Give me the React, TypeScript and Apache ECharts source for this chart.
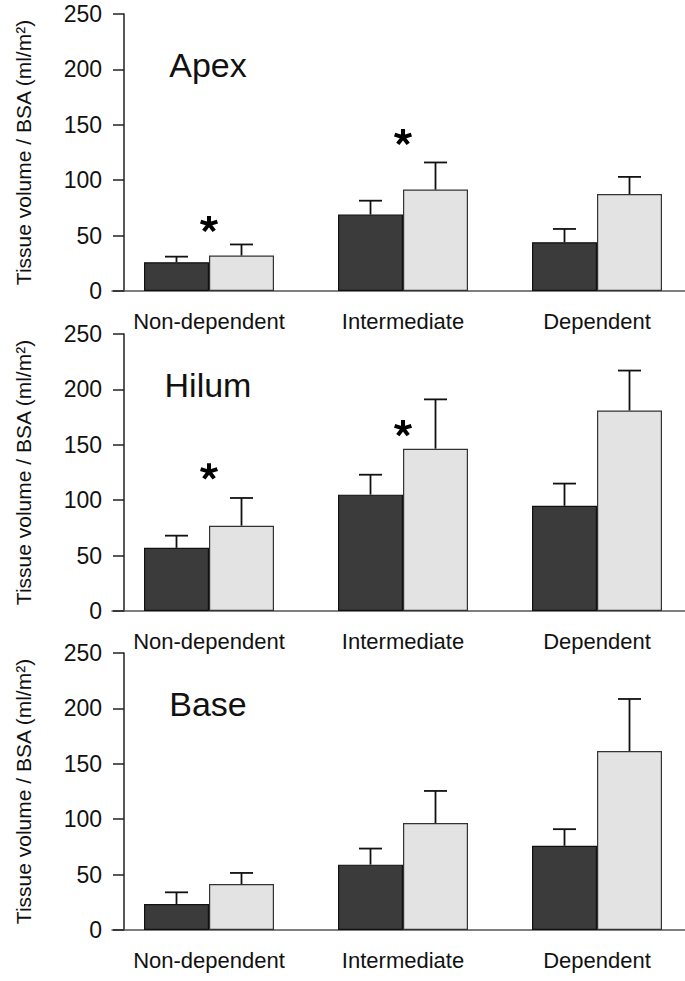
import React, { useEffect, useRef } from "react";
import * as echarts from "echarts";

const categories = ["Non-dependent", "Intermediate", "Dependent"];
const panelTitles = ["Apex", "Hilum", "Base"];
const yTicks = [0, 50, 100, 150, 200, 250];
const yAxisTitle = "Tissue volume / BSA (ml/m²)";

// mean values (dark bars / light bars) per panel
const apexDark = [26, 69, 44];
const apexDarkErr = [5, 12.5, 12];
const apexLight = [32, 91.5, 87.5];
const apexLightErr = [10, 24.5, 15.5];
const apexStars = [60.5, 139, null];

const hilumDark = [57, 105, 95];
const hilumDarkErr = [11, 18, 20];
const hilumLight = [77, 146.5, 181];
const hilumLightErr = [25, 44.5, 36];
const hilumStars = [126, 165, null];

const baseDark = [23.5, 59, 76];
const baseDarkErr = [10.5, 14.5, 15];
const baseLight = [41.5, 96.5, 161.5];
const baseLightErr = [10, 29, 47];
const baseStars = [null, null, null];

const panels = [
  { dark: apexDark, darkErr: apexDarkErr, light: apexLight, lightErr: apexLightErr, stars: apexStars },
  { dark: hilumDark, darkErr: hilumDarkErr, light: hilumLight, lightErr: hilumLightErr, stars: hilumStars },
  { dark: baseDark, darkErr: baseDarkErr, light: baseLight, lightErr: baseLightErr, stars: baseStars },
];

const FONT = "Liberation Sans, Arial, Helvetica, sans-serif";
const GRID_TOPS = [14, 334, 653];
const GRID_H = 277;
const GRID_LEFT = 112;
const GRID_W = 582;
const BAR_W = 65;

function asteriskPath(): string {
  const w = 0.46;
  const parts: string[] = [];
  const angles = [-90, -18, 54, 126, 198];
  for (const a of angles) {
    const t = (a * Math.PI) / 180;
    const dx = Math.cos(t), dy = Math.sin(t);
    const px = -dy * (w / 2), py = dx * (w / 2);
    const s = -0.15;
    const pts = [
      [s * dx + px, s * dy + py],
      [dx + px, dy + py],
      [dx - px, dy - py],
      [s * dx - px, s * dy - py],
    ];
    parts.push(
      "M" + pts.map((p) => p[0].toFixed(3) + " " + p[1].toFixed(3)).join(" L") + " Z"
    );
  }
  return "path://" + parts.join(" ");
}

export default function App() {
  const ref = useRef<HTMLDivElement>(null);

  useEffect(() => {
    if (!ref.current) return;
    const chart = echarts.init(ref.current, null, { renderer: "svg" });

    const grids: any[] = [];
    const xAxes: any[] = [];
    const yAxes: any[] = [];
    const series: any[] = [];
    const graphics: any[] = [];
    const star = asteriskPath();

    panels.forEach((p, i) => {
      grids.push({
        left: GRID_LEFT,
        top: GRID_TOPS[i],
        width: GRID_W,
        height: GRID_H,
        containLabel: false,
        outerBoundsMode: "none",
      });
      xAxes.push({
        gridIndex: i,
        type: "category",
        data: categories,
        axisTick: { show: false },
        axisLine: { show: true, lineStyle: { color: "#555", width: 1.5 } },
        axisLabel: { interval: 0, fontSize: 22, color: "#111", margin: 19, fontFamily: FONT },
      });
      yAxes.push({
        gridIndex: i,
        type: "value",
        min: yTicks[0],
        max: yTicks[yTicks.length - 1],
        interval: yTicks[1] - yTicks[0],
        offset: -12,
        splitLine: { show: false },
        axisLine: { show: true, lineStyle: { color: "#222", width: 1.5 } },
        axisTick: { show: true, length: 11, lineStyle: { color: "#222", width: 1.5 } },
        axisLabel: { fontSize: 23, color: "#111", margin: 22, fontFamily: FONT },
        name: yAxisTitle,
        nameLocation: "middle",
        nameGap: 90,
        nameTextStyle: { fontSize: 21, color: "#111", fontFamily: FONT },
      });

      series.push({
        type: "bar",
        xAxisIndex: i,
        yAxisIndex: i,
        data: p.dark,
        barWidth: BAR_W,
        barGap: "0%",
        itemStyle: { color: "#3b3b3b", borderColor: "#111", borderWidth: 1.2 },
        z: 2,
      });
      series.push({
        type: "bar",
        xAxisIndex: i,
        yAxisIndex: i,
        data: p.light,
        barWidth: BAR_W,
        barGap: "0%",
        itemStyle: { color: "#e3e3e3", borderColor: "#333", borderWidth: 1.2 },
        z: 2,
      });

      const errSeries = (means: number[], errs: number[], side: number) => ({
        type: "custom",
        xAxisIndex: i,
        yAxisIndex: i,
        z: 3,
        data: means.map((m, k) => [k, m, errs[k]]),
        renderItem: (params: any, api: any) => {
          const c = api.value(0);
          const m = api.value(1);
          const e = api.value(2);
          const base = api.coord([c, m]);
          const top = api.coord([c, m + e]);
          const x = base[0] + side * (BAR_W / 2);
          const capHalf = 11.5;
          const style = { stroke: "#111", lineWidth: 1.8 };
          return {
            type: "group",
            children: [
              { type: "line", shape: { x1: x, y1: base[1], x2: x, y2: top[1] }, style },
              { type: "line", shape: { x1: x - capHalf, y1: top[1], x2: x + capHalf, y2: top[1] }, style },
            ],
          };
        },
      });
      series.push(errSeries(p.dark, p.darkErr, -1));
      series.push(errSeries(p.light, p.lightErr, 1));

      const starData = p.stars
        .map((v, k) => (v == null ? null : [k, v]))
        .filter((d) => d != null);
      series.push({
        type: "scatter",
        xAxisIndex: i,
        yAxisIndex: i,
        data: starData,
        symbol: star,
        symbolKeepAspect: true,
        symbolSize: [18, 17],
        itemStyle: { color: "#000", opacity: 1 },
        z: 4,
      });

      graphics.push({
        type: "text",
        x: 208,
        y: GRID_TOPS[i] + 51,
        style: {
          text: panelTitles[i],
          fontSize: 34,
          fontFamily: FONT,
          fill: "#111",
          align: "center",
          verticalAlign: "middle",
        },
      });
    });

    chart.setOption({
      animation: false,
      backgroundColor: "#fff",
      grid: grids,
      xAxis: xAxes,
      yAxis: yAxes,
      series,
      graphic: graphics,
    });

    return () => chart.dispose();
  }, []);

  return (
    <div
      ref={ref}
      style={{ position: "absolute", left: 0, top: 0, width: 685, height: 981 }}
    />
  );
}
